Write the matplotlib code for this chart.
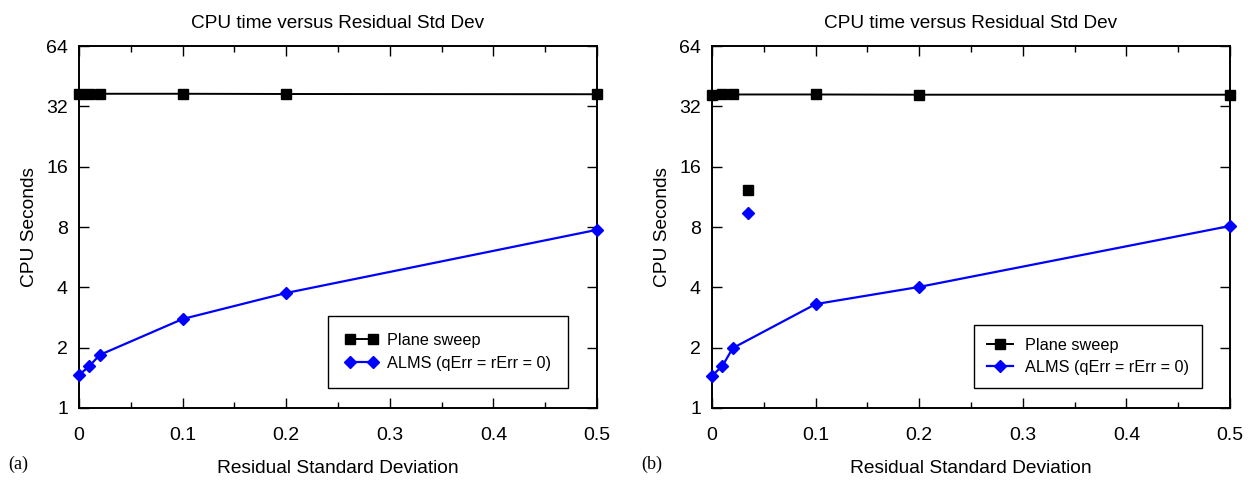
import matplotlib.pyplot as plt
from matplotlib.legend_handler import HandlerLine2D
from matplotlib.lines import Line2D

# === DATA ===
resid_sd = [0, 0.01, 0.02, 0.1, 0.2, 0.5]

# panel (a)
sweep_a = [37.0, 37.0, 37.0, 37.0, 36.9, 36.8]
alms_a = [1.46, 1.62, 1.84, 2.78, 3.75, 7.75]

# panel (b)
sweep_b = [36.6, 36.7, 36.7, 36.7, 36.6, 36.6]
alms_b = [1.45, 1.62, 1.99, 3.30, 4.02, 8.10]
outlier_x = [0.035]
outlier_sweep = [12.3]
outlier_alms = [9.45]

yticks = [1, 2, 4, 8, 16, 32, 64]
xticks = [0, 0.1, 0.2, 0.3, 0.4, 0.5]
xminor = [0.05, 0.15, 0.25, 0.35, 0.45]
labels = ["Plane sweep", "ALMS (qErr = rErr = 0)"]

plt.rcParams["font.family"] = ["Liberation Sans", "DejaVu Sans"]
BLUE = "#0000ff"


class EndMarker(HandlerLine2D):
    # line with the marker only at its right end (gnuplot style)
    def get_xdata(self, legend, xdescent, ydescent, width, height, fontsize):
        xd, _ = super().get_xdata(legend, xdescent, ydescent, width, height, fontsize)
        return xd, [xd[-1]]


def setup(ax, tag):
    ax.set_yscale("log", base=2)
    ax.set_ylim(1, 64)
    ax.set_xlim(0, 0.5)
    ax.set_yticks(yticks)
    ax.set_yticklabels([str(v) for v in yticks])
    ax.yaxis.set_minor_locator(plt.NullLocator())
    ax.set_xticks(xticks)
    ax.set_xticklabels(["0"] + [f"{v:g}" for v in xticks[1:]])
    ax.set_xticks(xminor, minor=True)
    ax.tick_params(which="major", direction="in", length=7, width=1, top=True,
                   right=True, labelsize=14)
    ax.tick_params(axis="x", which="major", pad=13.5)
    ax.tick_params(axis="y", which="major", pad=8)
    ax.tick_params(axis="x", which="minor", direction="in", length=4, width=1,
                   top=True)
    for s in ax.spines.values():
        s.set_linewidth(1.4)
    ax.set_title("CPU time versus Residual Std Dev", fontsize=13.7, pad=13)
    ax.set_xlabel("Residual Standard Deviation", fontsize=13.8, labelpad=12)
    ax.set_ylabel("CPU Seconds", fontsize=13.8, labelpad=6)
    ax.text(-0.137, -0.157, tag, transform=ax.transAxes, fontsize=13,
            family=["Liberation Serif", "DejaVu Serif"], va="center")


fig = plt.figure(figsize=(12.56, 4.8), dpi=100)
ax1 = fig.add_axes([0.0629, 0.15, 0.4124, 0.754])
ax2 = fig.add_axes([0.5669, 0.15, 0.4124, 0.754])

# === (a) ===
ax1.plot(resid_sd, sweep_a, color="black", lw=1.4, marker="s", ms=7,
         label=labels[0], clip_on=False, zorder=3)
ax1.plot(resid_sd, alms_a, color=BLUE, lw=1.6, marker="D", ms=6.5,
         label=labels[1], clip_on=False, zorder=3)
setup(ax1, "(a)")
leg1 = ax1.legend(loc="lower right", bbox_to_anchor=(0.944, 0.055), fontsize=11.7,
                  numpoints=2, handlelength=2.0, handletextpad=0.55,
                  fancybox=False, framealpha=1, edgecolor="black",
                  borderpad=1.05, labelspacing=0.5, borderaxespad=0)
leg1.get_frame().set_linewidth(1.0)

# === (b) ===
ax2.plot(resid_sd, sweep_b, color="black", lw=1.4, marker="s", ms=7,
         clip_on=False, zorder=3)
ax2.plot(resid_sd, alms_b, color=BLUE, lw=1.6, marker="D", ms=6.5,
         clip_on=False, zorder=3)
ax2.plot(outlier_x, outlier_sweep, ls="none", color="black", marker="s", ms=7)
ax2.plot(outlier_x, outlier_alms, ls="none", color=BLUE, marker="D", ms=6.5)
setup(ax2, "(b)")
h1 = Line2D([], [], color="black", lw=1.4, marker="s", ms=7)
h2 = Line2D([], [], color=BLUE, lw=1.6, marker="D", ms=6.5)
leg2 = ax2.legend([h1, h2], labels, loc="lower right",
                  bbox_to_anchor=(0.946, 0.055), fontsize=11.7,
                  handler_map={h1: EndMarker(numpoints=1), h2: EndMarker(numpoints=1)},
                  handlelength=1.6, handletextpad=0.75, fancybox=False,
                  framealpha=1, edgecolor="black", borderpad=0.8,
                  labelspacing=0.45, borderaxespad=0)
leg2.get_frame().set_linewidth(1.0)

fig.savefig("out.png", dpi=100)
